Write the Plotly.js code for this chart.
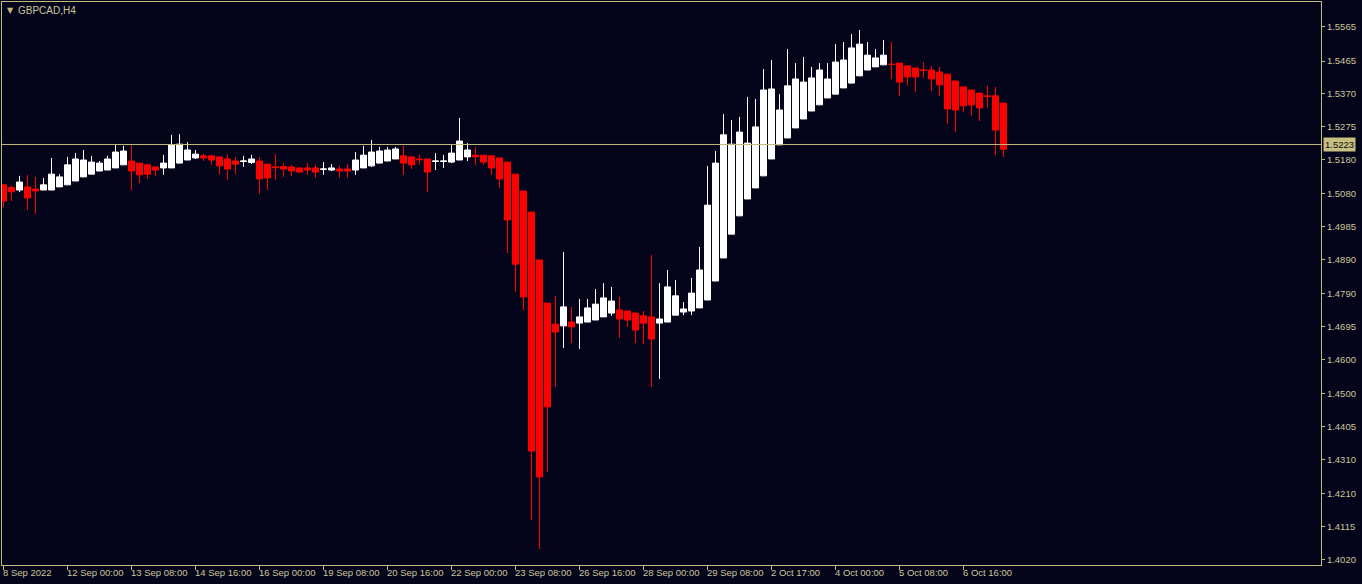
<!DOCTYPE html>
<html>
<head>
<meta charset="utf-8">
<script src="https://cdn.plot.ly/plotly-3.0.1.min.js"></script>
<style>
  html, body { margin: 0; padding: 0; background: #04041a; }
  #chart { width: 1362px; height: 584px; }
</style>
</head>
<body>
<div id="chart"></div>
<script>
// GBPCAD H4 candles (index 0 = 8 Sep 2022 ... index 125 = last bar)
const openP  = [1.5106,1.5098,1.5091,1.5100,1.5094,1.5091,1.5091,1.5100,1.5106,1.5117,
                1.5129,1.5137,1.5146,1.5149,1.5155,1.5164,1.5175,1.5169,1.5164,1.5158,
                1.5155,1.5155,1.5169,1.5178,1.5184,1.5190,1.5190,1.5187,1.5181,1.5175,
                1.5174,1.5171,1.5175,1.5166,1.5158,1.5159,1.5158,1.5155,1.5155,1.5155,
                1.5151,1.5149,1.5152,1.5152,1.5149,1.5155,1.5161,1.5169,1.5175,1.5181,
                1.5190,1.5187,1.5181,1.5181,1.5174,1.5174,1.5172,1.5178,1.5187,1.5192,
                1.5192,1.5190,1.5184,1.5172,1.5137,1.5088,1.5027,1.4888,1.4763,1.4702,
                1.4697,1.4708,1.4705,1.4708,1.4714,1.4723,1.4734,1.4743,1.4740,1.4734,
                1.4726,1.4723,1.4705,1.4708,1.4728,1.4737,1.4740,1.4749,1.4772,1.4827,
                1.4894,1.4963,1.5016,1.5065,1.5097,1.5132,1.5181,1.5222,1.5242,1.5271,
                1.5297,1.5320,1.5338,1.5358,1.5369,1.5387,1.5401,1.5422,1.5439,1.5448,
                1.5454,1.5456,1.5459,1.5451,1.5445,1.5439,1.5439,1.5433,1.5427,1.5407,
                1.5390,1.5381,1.5372,1.5364,1.5364,1.5343];
const highP  = [1.5108,1.5103,1.5132,1.5135,1.5129,1.5126,1.5184,1.5137,1.5187,1.5198,
                1.5207,1.5190,1.5175,1.5190,1.5222,1.5219,1.5224,1.5169,1.5164,1.5158,
                1.5193,1.5251,1.5253,1.5230,1.5207,1.5195,1.5193,1.5187,1.5193,1.5187,
                1.5190,1.5193,1.5187,1.5166,1.5195,1.5169,1.5164,1.5155,1.5169,1.5164,
                1.5172,1.5166,1.5161,1.5166,1.5201,1.5219,1.5236,1.5216,1.5216,1.5216,
                1.5219,1.5187,1.5193,1.5181,1.5198,1.5193,1.5222,1.5300,1.5227,1.5216,
                1.5192,1.5190,1.5184,1.5172,1.5137,1.5088,1.5027,1.4888,1.4763,1.4784,
                1.4911,1.4752,1.4775,1.4775,1.4804,1.4821,1.4810,1.4781,1.4740,1.4734,
                1.4740,1.4903,1.4821,1.4859,1.4830,1.4766,1.4836,1.4926,1.5161,1.5204,
                1.5311,1.5294,1.5303,1.5361,1.5355,1.5442,1.5468,1.5369,1.5500,1.5459,
                1.5477,1.5448,1.5459,1.5459,1.5514,1.5520,1.5543,1.5555,1.5520,1.5500,
                1.5526,1.5520,1.5459,1.5451,1.5445,1.5462,1.5451,1.5448,1.5427,1.5407,
                1.5390,1.5381,1.5372,1.5393,1.5390,1.5343];
const lowP   = [1.5040,1.5059,1.5085,1.5033,1.5022,1.5091,1.5091,1.5100,1.5106,1.5117,
                1.5129,1.5137,1.5146,1.5149,1.5155,1.5164,1.5091,1.5111,1.5123,1.5132,
                1.5135,1.5155,1.5169,1.5178,1.5181,1.5175,1.5164,1.5137,1.5120,1.5137,
                1.5158,1.5166,1.5079,1.5091,1.5120,1.5129,1.5132,1.5140,1.5135,1.5126,
                1.5135,1.5146,1.5126,1.5126,1.5135,1.5155,1.5158,1.5169,1.5175,1.5181,
                1.5135,1.5152,1.5164,1.5085,1.5149,1.5155,1.5169,1.5178,1.5175,1.5164,
                1.5164,1.5135,1.5097,1.4908,1.4795,1.4743,1.4134,1.4050,1.4273,1.4520,
                1.4633,1.4647,1.4630,1.4708,1.4714,1.4723,1.4726,1.4662,1.4694,1.4647,
                1.4644,1.4520,1.4543,1.4708,1.4728,1.4728,1.4728,1.4749,1.4772,1.4827,
                1.4894,1.4963,1.5016,1.5065,1.5097,1.5132,1.5181,1.5222,1.5242,1.5271,
                1.5297,1.5320,1.5338,1.5358,1.5369,1.5387,1.5401,1.5422,1.5439,1.5448,
                1.5454,1.5413,1.5364,1.5393,1.5375,1.5416,1.5378,1.5364,1.5282,1.5259,
                1.5317,1.5306,1.5291,1.5329,1.5192,1.5187];
const closeP = [1.5059,1.5086,1.5114,1.5068,1.5088,1.5106,1.5137,1.5129,1.5164,1.5181,
                1.5178,1.5172,1.5169,1.5181,1.5201,1.5204,1.5146,1.5135,1.5137,1.5149,
                1.5169,1.5222,1.5224,1.5207,1.5195,1.5184,1.5178,1.5161,1.5152,1.5166,
                1.5175,1.5181,1.5123,1.5126,1.5156,1.5152,1.5146,1.5143,1.5149,1.5143,
                1.5152,1.5155,1.5146,1.5146,1.5178,1.5192,1.5201,1.5204,1.5207,1.5210,
                1.5169,1.5164,1.5179,1.5143,1.5175,1.5175,1.5198,1.5233,1.5207,1.5187,
                1.5172,1.5155,1.5123,1.5004,1.4876,1.4781,1.4334,1.4259,1.4462,1.4679,
                1.4752,1.4694,1.4723,1.4749,1.4760,1.4778,1.4769,1.4717,1.4714,1.4685,
                1.4705,1.4659,1.4717,1.4810,1.4784,1.4746,1.4792,1.4859,1.5047,1.5169,
                1.5251,1.5224,1.5259,1.5227,1.5274,1.5381,1.5384,1.5323,1.5393,1.5413,
                1.5404,1.5416,1.5439,1.5413,1.5462,1.5468,1.5503,1.5514,1.5482,1.5474,
                1.5482,1.5455,1.5404,1.5419,1.5419,1.5438,1.5413,1.5396,1.5326,1.5323,
                1.5335,1.5338,1.5329,1.5362,1.5265,1.5209];

// time axis labels and the bars they sit on
const tickBars   = [0, 8, 16, 24, 32, 40, 48, 56, 64, 72, 80, 88, 96, 104, 112, 120];
const tickLabels = ["8 Sep 2022","12 Sep 00:00","13 Sep 08:00","14 Sep 16:00","16 Sep 00:00",
                    "19 Sep 08:00","20 Sep 16:00","22 Sep 00:00","23 Sep 08:00","26 Sep 16:00",
                    "28 Sep 00:00","29 Sep 08:00","2 Oct 17:00","4 Oct 00:00","5 Oct 08:00","6 Oct 16:00"];
// price axis labels
const priceTicks = [1.5565,1.5465,1.5370,1.5275,1.5180,1.5080,1.4985,1.4890,1.4790,
                    1.4695,1.4600,1.4500,1.4405,1.4310,1.4210,1.4115,1.4020];
const bidPrice = 1.5223;
const symbolTitle = "GBPCAD,H4";

const barIndex = openP.map((_, i) => i);

const FG = '#c4bc7a';
const TXT = '#cdc89a';
const BG = '#04041a';
const FONT = 'Liberation Sans, Arial, sans-serif';

const trace = {
  type: 'candlestick',
  x: barIndex,
  open: openP, high: highP, low: lowP, close: closeP,
  increasing: { line: { color: '#ffffff', width: 1 }, fillcolor: '#ffffff' },
  decreasing: { line: { color: '#ff0000', width: 1 }, fillcolor: '#ff0000' },
  whiskerwidth: 0,
  hoverinfo: 'skip'
};

const annotations = tickBars.map((b, k) => ({
  x: b, xref: 'x', y: 0, yref: 'paper',
  text: tickLabels[k], showarrow: false,
  xanchor: 'left', yanchor: 'middle', xshift: -3, yshift: -7,
  font: { family: FONT, size: 9.5, color: TXT }
}));
annotations.push({
  x: 0, xref: 'paper', y: 1, yref: 'paper', xanchor: 'left', yanchor: 'middle',
  xshift: 3, yshift: -8, showarrow: false, text: '▼',
  font: { family: 'DejaVu Sans, sans-serif', size: 8, color: FG }
});
annotations.push({
  x: 0, xref: 'paper', y: 1, yref: 'paper', xanchor: 'left', yanchor: 'middle',
  xshift: 14, yshift: -8, showarrow: false, text: symbolTitle,
  font: { family: FONT, size: 10, color: TXT }
});
annotations.push({
  x: 1, xref: 'paper', y: bidPrice, yref: 'y', xanchor: 'left', yanchor: 'middle',
  xshift: 2, showarrow: false, text: bidPrice.toFixed(4),
  bgcolor: '#c8c080', borderpad: 1,
  font: { family: FONT, size: 9.5, color: '#0a0a10' }
});

const layout = {
  width: 1362, height: 584,
  paper_bgcolor: BG, plot_bgcolor: BG,
  margin: { l: 2, r: 41, t: 2, b: 19, pad: 0 },
  showlegend: false,
  boxgap: 0.25, boxgroupgap: 0,
  xaxis: {
    range: [-0.1875, 164.6875],
    rangeslider: { visible: false },
    showgrid: false, zeroline: false,
    showline: true, mirror: true, linecolor: FG, linewidth: 1,
    tickmode: 'array', tickvals: tickBars, ticks: 'outside', ticklen: 4,
    tickcolor: FG, tickwidth: 1, showticklabels: false, fixedrange: true
  },
  yaxis: {
    side: 'right',
    range: [1.40035, 1.56362],
    showgrid: false, zeroline: false,
    showline: true, mirror: true, linecolor: FG, linewidth: 1,
    tickmode: 'array', tickvals: priceTicks, ticktext: priceTicks.map(v => v.toFixed(4)),
    ticks: 'outside', ticklen: 3, tickcolor: FG, tickwidth: 1,
    tickfont: { family: FONT, size: 9.5, color: TXT }, fixedrange: true
  },
  shapes: [{
    type: 'line', xref: 'paper', x0: 0, x1: 1, yref: 'y', y0: bidPrice, y1: bidPrice,
    line: { color: FG, width: 1 }
  }],
  annotations: annotations
};

Plotly.newPlot('chart', [trace], layout, { staticPlot: true, displayModeBar: false });
</script>
</body>
</html>
